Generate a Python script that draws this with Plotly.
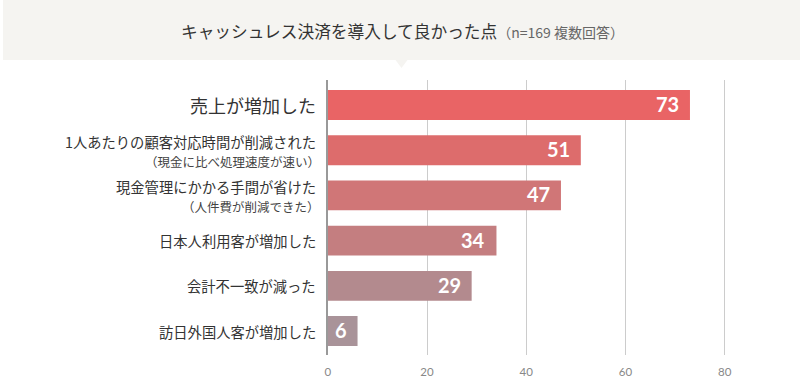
import plotly.graph_objects as go

categories = ["売上が増加した", "1人あたりの顧客対応時間が削減された", "現金管理にかかる手間が省けた",
              "日本人利用客が増加した", "会計不一致が減った", "訪日外国人客が増加した"]
sublabels = ["", "（現金に比べ処理速度が速い）", "（人件費が削減できた）", "", "", ""]
values = [73, 51, 47, 34, 29, 6]
bar_colors = ["#e96465", "#dd6c6c", "#d07677", "#c47e80", "#b38a8e", "#a99399"]
tick_vals = [0, 20, 40, 60, 80]
title_main = "キャッシュレス決済を導入して良かった点"
title_sub = "（n=169 複数回答）"

W, H = 800, 385
JP = "Noto Sans CJK JP"
NUM = "Lato"

fig = go.Figure()
fig.add_trace(go.Bar(
    y=categories, x=values, orientation="h",
    marker=dict(color=bar_colors, line=dict(width=0)),
    width=0.66, hoverinfo="skip",
))

ann = []
# category labels
for i, (c, s) in enumerate(zip(categories, sublabels)):
    if i == 0:
        ann.append(dict(x=316 / W, xref="paper", y=c, yref="y", text=c, showarrow=False,
                        xanchor="right", yanchor="middle",
                        font=dict(family=JP, size=18, color="#333333")))
    elif s:
        ann.append(dict(x=316 / W, xref="paper", y=c, yref="y", text=c, showarrow=False,
                        xanchor="right", yanchor="middle", yshift=9,
                        font=dict(family=JP, size=14.3, color="#333333")))
        ann.append(dict(x=320 / W, xref="paper", y=c, yref="y", text=s, showarrow=False,
                        xanchor="right", yanchor="middle", yshift=-11,
                        font=dict(family=JP, size=12.5, color="#444444")))
    else:
        ann.append(dict(x=316 / W, xref="paper", y=c, yref="y", text=c, showarrow=False,
                        xanchor="right", yanchor="middle",
                        font=dict(family=JP, size=14.3, color="#333333")))
# value labels
for c, v in zip(categories, values):
    ann.append(dict(x=v, xref="x", y=c, yref="y", text=f"<b>{v}</b>", showarrow=False,
                    xanchor="right", yanchor="middle", xshift=-9, yshift=1,
                    font=dict(family=NUM, size=20, color="#ffffff")))
# title
ann.append(dict(x=401 / W, xref="paper", y=1 - 31 / H, yref="paper",
                text=f"{title_main}<span style='font-size:14px;color:#666666'>{title_sub}</span>",
                showarrow=False, xanchor="center", yanchor="middle",
                font=dict(family=JP, size=16.7, color="#333333")))

shapes = [
    dict(type="rect", xref="paper", yref="paper", x0=0, x1=1, y0=1 - 60 / H, y1=1,
         fillcolor="#f5f4f1", line=dict(width=0), layer="below"),
    dict(type="path", xref="paper", yref="paper",
         path=f"M {394 / W} {1 - 60 / H} L {406 / W} {1 - 60 / H} L {400 / W} {1 - 68 / H} Z",
         fillcolor="#f5f4f1", line=dict(width=0), layer="below"),
]

fig.update_layout(
    width=W, height=H,
    margin=dict(l=0, r=0, t=0, b=0),
    paper_bgcolor="#ffffff", plot_bgcolor="rgba(0,0,0,0)",
    showlegend=False,
    annotations=ann, shapes=shapes,
    xaxis=dict(domain=[326 / W, 1], range=[0, 474 / 4.98],
               tickvals=tick_vals, ticktext=[str(t) for t in tick_vals],
               showgrid=True, gridcolor="#cccccc", gridwidth=1,
               zeroline=False, showline=False, ticks="",
               ticklabelstandoff=8,
               tickfont=dict(family=NUM, size=11.5, color="#888888"),
               fixedrange=True),
    yaxis=dict(domain=[(H - 355) / H, (H - 80) / H], type="category",
               categoryorder="array", categoryarray=categories,
               range=[5.53, -0.553], showticklabels=False, ticks="",
               showgrid=False, zeroline=False,
               showline=True, linecolor="#999999", linewidth=1.5,
               fixedrange=True),
)

fig.write_html("out.html", config={"displayModeBar": False},
               post_script="document.body.style.margin='0';document.body.style.overflow='hidden';")
